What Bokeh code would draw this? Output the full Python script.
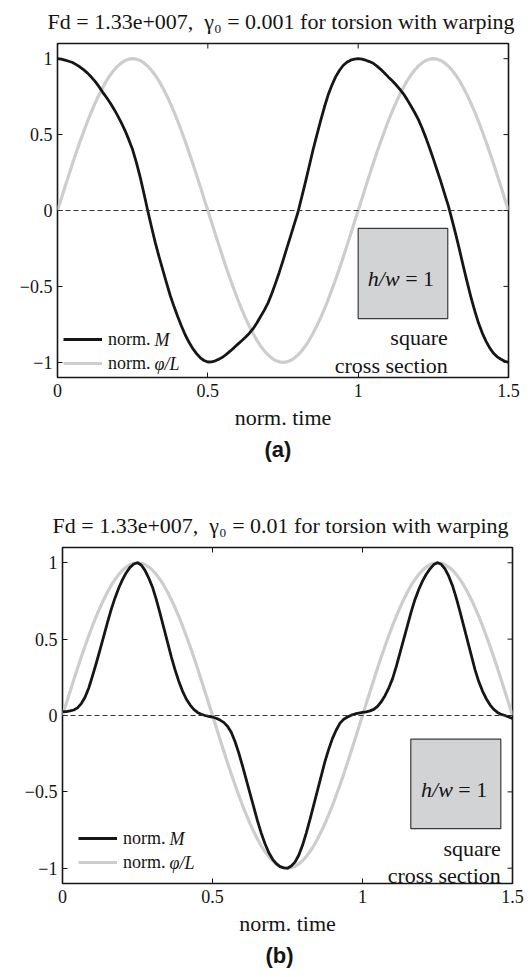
import math
from bokeh.plotting import figure
from bokeh.models import (Range1d, FixedTicker, Span, BoxAnnotation, Label,
                          Title, Legend, LegendItem, CustomJSTickFormatter)
from bokeh.layouts import column
from bokeh.embed import file_html
from bokeh.resources import INLINE

# ---------------- data ----------------
time_norm = [0.0000, 0.0125, 0.0250, 0.0375, 0.0500, 0.0625, 0.0750, 0.0875, 0.1000, 0.1125,
             0.1250, 0.1375, 0.1500, 0.1625, 0.1750, 0.1875, 0.2000, 0.2125, 0.2250, 0.2375,
             0.2500, 0.2625, 0.2750, 0.2875, 0.3000, 0.3125, 0.3250, 0.3375, 0.3500, 0.3625,
             0.3750, 0.3875, 0.4000, 0.4125, 0.4250, 0.4375, 0.4500, 0.4625, 0.4750, 0.4875,
             0.5000, 0.5125, 0.5250, 0.5375, 0.5500, 0.5625, 0.5750, 0.5875, 0.6000, 0.6125,
             0.6250, 0.6375, 0.6500, 0.6625, 0.6750, 0.6875, 0.7000, 0.7125, 0.7250, 0.7375,
             0.7500, 0.7625, 0.7750, 0.7875, 0.8000, 0.8125, 0.8250, 0.8375, 0.8500, 0.8625,
             0.8750, 0.8875, 0.9000, 0.9125, 0.9250, 0.9375, 0.9500, 0.9625, 0.9750, 0.9875,
             1.0000, 1.0125, 1.0250, 1.0375, 1.0500, 1.0625, 1.0750, 1.0875, 1.1000, 1.1125,
             1.1250, 1.1375, 1.1500, 1.1625, 1.1750, 1.1875, 1.2000, 1.2125, 1.2250, 1.2375,
             1.2500, 1.2625, 1.2750, 1.2875, 1.3000, 1.3125, 1.3250, 1.3375, 1.3500, 1.3625,
             1.3750, 1.3875, 1.4000, 1.4125, 1.4250, 1.4375, 1.4500, 1.4625, 1.4750, 1.4875,
             1.5000]

# norm. phi/L (light gray curve, same in both panels)
phi_norm = [0.000, 0.078, 0.156, 0.233, 0.309, 0.383, 0.454, 0.522, 0.588, 0.649,
            0.707, 0.760, 0.809, 0.853, 0.891, 0.924, 0.951, 0.972, 0.988, 0.997,
            1.000, 0.997, 0.988, 0.972, 0.951, 0.924, 0.891, 0.853, 0.809, 0.760,
            0.707, 0.649, 0.588, 0.522, 0.454, 0.383, 0.309, 0.233, 0.156, 0.078,
            0.000, -0.078, -0.156, -0.233, -0.309, -0.383, -0.454, -0.522, -0.588, -0.649,
            -0.707, -0.760, -0.809, -0.853, -0.891, -0.924, -0.951, -0.972, -0.988, -0.997,
            -1.000, -0.997, -0.988, -0.972, -0.951, -0.924, -0.891, -0.853, -0.809, -0.760,
            -0.707, -0.649, -0.588, -0.522, -0.454, -0.383, -0.309, -0.233, -0.156, -0.078,
            0.000, 0.078, 0.156, 0.233, 0.309, 0.383, 0.454, 0.522, 0.588, 0.649,
            0.707, 0.760, 0.809, 0.853, 0.891, 0.924, 0.951, 0.972, 0.988, 0.997,
            1.000, 0.997, 0.988, 0.972, 0.951, 0.924, 0.891, 0.853, 0.809, 0.760,
            0.707, 0.649, 0.588, 0.522, 0.454, 0.383, 0.309, 0.233, 0.156, 0.078,
            0.000]

# norm. M, panel (a): gamma0 = 0.001
m_norm_a = [1.000, 0.997, 0.990, 0.983, 0.975, 0.961, 0.945, 0.926, 0.905, 0.879,
            0.850, 0.817, 0.780, 0.746, 0.710, 0.669, 0.625, 0.577, 0.525, 0.465,
            0.400, 0.315, 0.220, 0.112, 0.000, -0.107, -0.210, -0.303, -0.390, -0.477,
            -0.560, -0.633, -0.700, -0.762, -0.820, -0.868, -0.910, -0.943, -0.970, -0.988,
            -0.998, -0.997, -0.990, -0.979, -0.965, -0.946, -0.925, -0.903, -0.880, -0.858,
            -0.835, -0.810, -0.780, -0.743, -0.700, -0.658, -0.610, -0.548, -0.480, -0.408,
            -0.330, -0.250, -0.170, -0.090, -0.010, 0.090, 0.190, 0.295, 0.400, 0.497,
            0.590, 0.680, 0.760, 0.825, 0.880, 0.922, 0.955, 0.977, 0.990, 0.997,
            1.000, 0.997, 0.990, 0.981, 0.970, 0.951, 0.930, 0.906, 0.880, 0.856,
            0.830, 0.801, 0.770, 0.732, 0.690, 0.647, 0.600, 0.543, 0.480, 0.412,
            0.340, 0.265, 0.190, 0.110, 0.030, -0.063, -0.160, -0.263, -0.370, -0.472,
            -0.570, -0.660, -0.740, -0.806, -0.860, -0.905, -0.940, -0.964, -0.980, -0.993,
            -1.000]

# norm. M, panel (b): gamma0 = 0.01
m_norm_b = [0.025, 0.026, 0.030, 0.036, 0.050, 0.078, 0.120, 0.180, 0.260, 0.342,
            0.430, 0.520, 0.610, 0.695, 0.770, 0.835, 0.890, 0.935, 0.970, 0.992,
            1.000, 0.985, 0.950, 0.900, 0.840, 0.760, 0.670, 0.575, 0.480, 0.385,
            0.300, 0.225, 0.160, 0.108, 0.070, 0.040, 0.020, 0.008, 0.000, -0.005,
            -0.010, -0.018, -0.030, -0.045, -0.070, -0.110, -0.170, -0.245, -0.330, -0.420,
            -0.510, -0.600, -0.690, -0.770, -0.840, -0.897, -0.940, -0.970, -0.990, -0.998,
            -1.000, -0.985, -0.960, -0.915, -0.850, -0.770, -0.680, -0.585, -0.490, -0.395,
            -0.300, -0.220, -0.150, -0.095, -0.050, -0.025, -0.010, 0.002, 0.010, 0.016,
            0.020, 0.024, 0.030, 0.040, 0.060, 0.090, 0.130, 0.180, 0.240, 0.320,
            0.410, 0.500, 0.590, 0.680, 0.760, 0.825, 0.880, 0.925, 0.960, 0.988,
            1.000, 0.990, 0.960, 0.912, 0.850, 0.770, 0.680, 0.585, 0.490, 0.395,
            0.300, 0.222, 0.160, 0.110, 0.070, 0.040, 0.020, 0.007, 0.000, -0.010,
            -0.020]

x_ticks = [0, 0.5, 1, 1.5]
y_ticks = [-1, -0.5, 0, 0.5, 1]
x_limits = (0, 1.5)
y_limits = (-1.1, 1.1)
NB = "\u00a0"
titles = ["Fd = 1.33e+007," + NB + NB + "\u03b3\u2080 = 0.001 for torsion with warping",
          "Fd = 1.33e+007," + NB + NB + "\u03b3\u2080 = 0.01 for torsion with warping"]
captions = ["(a)", "(b)"]
x_label = "norm. time"
legend_text = ["norm.", "norm."]
legend_italic = ["M", "\u03c6/L"]
inset_text_italic = "h/w"
inset_text_plain = NB + "= 1"
inset_caption = ["square", "cross section"]

# ---------------- styling ----------------
SERIF = "Liberation Serif"
SANS = "Liberation Sans"
BLACK = "#161616"
GRAY = "#cdcdcd"
TXT = "#141414"

fmt_code = "return tick < 0 ? '\\u2212' + Math.abs(tick) : String(tick);"

panels = [
    dict(h=504, mbl=57, mbr=23, mbt=43, mbb=127, m=m_norm_a, title=titles[0], cap=captions[0],
         cap_offset=207, title_offset=-10, leg=(6, 2), box=(1.0, 1.298, -0.118, -0.712),
         split=1.138, ys=(-0.451, -0.838, -1.018)),
    dict(h=473, mbl=62, mbr=19, mbt=42, mbb=94, m=m_norm_b, title=titles[1], cap=captions[1],
         cap_offset=203, title_offset=-10, leg=(16, 9), box=(1.161, 1.461, -0.155, -0.741),
         split=1.301, ys=(-0.485, -0.870, -1.046)),
]


def style_axis(ax, ticks):
    ax.ticker = FixedTicker(ticks=ticks)
    ax.axis_line_color = None
    ax.major_tick_in = 5
    ax.major_tick_out = 0
    ax.major_tick_line_color = BLACK
    ax.major_tick_line_width = 1
    ax.minor_tick_line_color = None
    ax.formatter = CustomJSTickFormatter(code=fmt_code)
    ax.major_label_text_font = SERIF
    ax.major_label_text_font_size = "18px"
    ax.major_label_text_color = TXT


figs = []
for cfg in panels:
    p = figure(width=531, height=cfg["h"], x_range=Range1d(*x_limits), y_range=Range1d(*y_limits),
               output_backend="svg", toolbar_location=None, frame_align=False,
               min_border_left=cfg["mbl"], min_border_right=cfg["mbr"],
               min_border_top=cfg["mbt"], min_border_bottom=cfg["mbb"])
    p.title.text = cfg["title"]
    p.title.align = "left"
    p.title.offset = cfg["title_offset"]
    p.title.vertical_align = "top"
    p.title.standoff = 16
    p.title.text_font = SERIF
    p.title.text_font_size = "22px"
    p.title.text_font_style = "normal"
    p.title.text_color = TXT

    p.xgrid.visible = False
    p.ygrid.visible = False
    p.outline_line_color = BLACK
    p.outline_line_width = 1.6
    p.outline_line_alpha = 1.0
    p.background_fill_color = "white"
    p.border_fill_color = "white"

    style_axis(p.xaxis[0], x_ticks)
    style_axis(p.yaxis[0], y_ticks)
    p.xaxis[0].major_label_standoff = 6
    p.yaxis[0].major_label_standoff = 5
    p.xaxis[0].axis_label = x_label
    p.xaxis[0].axis_label_text_font = SERIF
    p.xaxis[0].axis_label_text_font_size = "22px"
    p.xaxis[0].axis_label_text_font_style = "normal"
    p.xaxis[0].axis_label_text_color = TXT
    p.xaxis[0].axis_label_standoff = 5

    cap = Title(text=cfg["cap"], align="left", text_font=SANS, text_font_style="bold",
                text_font_size="22px", text_color=TXT, offset=cfg["cap_offset"], standoff=4)
    p.add_layout(cap, "below")

    # mirrored inward ticks on the top and right edges of the box (clipped to the frame)
    inner_x = [t for t in x_ticks if x_limits[0] < t < x_limits[1]]
    p.scatter(inner_x, [y_limits[1]] * len(inner_x), marker="dash", size=10, angle=math.pi / 2,
              line_color=BLACK, line_width=1)
    p.scatter([x_limits[1]] * len(y_ticks), y_ticks, marker="dash", size=10,
              line_color=BLACK, line_width=1)

    # zero line
    p.add_layout(Span(location=0, dimension="width", line_color="#333333", line_width=1,
                      line_dash="5 3"))

    # inset box
    bl, br, bt, bb = cfg["box"]
    p.add_layout(BoxAnnotation(left=bl, right=br, top=bt, bottom=bb, fill_color="#d1d3d4",
                               fill_alpha=1.0, line_color="#3a3a3a", line_width=1.2,
                               line_alpha=1.0, level="underlay"))
    y_hw, y_sq, y_cs = cfg["ys"]
    p.add_layout(Label(x=cfg["split"], y=y_hw, text=inset_text_italic, text_font=SERIF,
                       text_font_style="italic", text_font_size="22px", text_align="right",
                       text_baseline="alphabetic", text_color=TXT))
    p.add_layout(Label(x=cfg["split"], y=y_hw, text=inset_text_plain, text_font=SERIF,
                       text_font_size="22px", text_align="left",
                       text_baseline="alphabetic", text_color=TXT))
    p.add_layout(Label(x=br, y=y_sq, text=inset_caption[0], text_font=SERIF,
                       text_font_size="22px", text_align="right",
                       text_baseline="alphabetic", text_color=TXT))
    p.add_layout(Label(x=br, y=y_cs, text=inset_caption[1], text_font=SERIF,
                       text_font_size="22px", text_align="right",
                       text_baseline="alphabetic", text_color=TXT))

    # curves
    r_phi = p.line(time_norm, phi_norm, line_color=GRAY, line_width=3.2, line_join="round")
    r_m = p.line(time_norm, cfg["m"], line_color=BLACK, line_width=2.8, line_join="round")

    lx, ly = cfg["leg"]
    gw, gh, sto = 39, 24, 6
    legend = Legend(items=[LegendItem(label=legend_text[0], renderers=[r_m]),
                           LegendItem(label=legend_text[1], renderers=[r_phi])],
                    location=(lx, ly), orientation="vertical", glyph_width=gw, glyph_height=gh,
                    label_height=gh, label_standoff=sto, spacing=0, padding=0, margin=0,
                    border_line_alpha=0, background_fill_alpha=0,
                    label_text_font=SERIF, label_text_font_size="18px", label_text_color=TXT)
    p.add_layout(legend)
    for i, txt in enumerate(legend_italic):
        p.add_layout(Label(x=lx + gw + sto + 46, y=ly + gh * (1.5 - i), x_units="screen",
                           y_units="screen", text=txt, text_font=SERIF,
                           text_font_style="italic", text_font_size="18px",
                           text_baseline="middle", text_align="left", text_color=TXT))
    figs.append(p)

layout = column(*figs, spacing=0)
open("out.html", "w").write(file_html(layout, INLINE))
